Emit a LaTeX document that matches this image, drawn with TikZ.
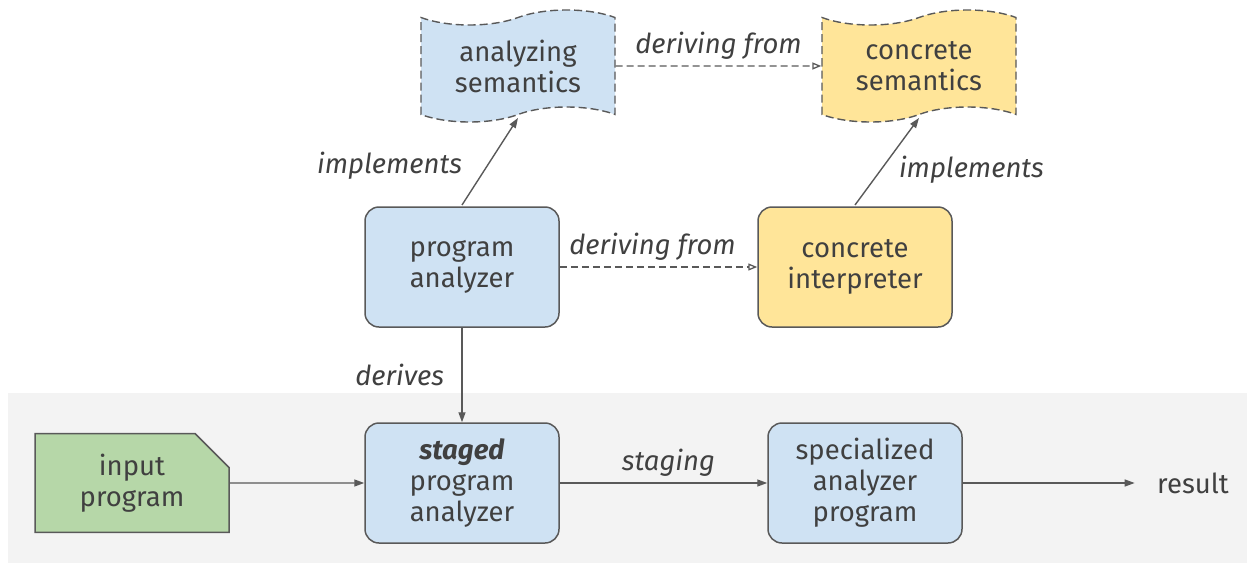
\documentclass[tikz,border=0pt]{standalone}
\usepackage{fontspec}
\setmainfont{Fira Sans}
\usetikzlibrary{arrows.meta,shapes.symbols,shapes.misc}

\definecolor{edgegray}{HTML}{595959}
\definecolor{inkgray}{HTML}{404040}
\definecolor{analyzerblue}{HTML}{CFE2F3}
\definecolor{concreteyellow}{HTML}{FFE599}
\definecolor{inputgreen}{HTML}{B6D7A8}
\definecolor{stagegray}{HTML}{F3F3F3}

\begin{document}
\begin{tikzpicture}[x=1pt, y=-1pt,
    font=\fontsize{27.5}{31}\selectfont, text=inkgray,
    box/.style={draw=edgegray, line width=1.5pt, rounded corners=14pt,
      minimum width=194pt, minimum height=120pt, align=center},
    wave/.style={tape, draw=edgegray, line width=1.4pt, dash pattern=on 8pt off 4pt,
      minimum width=194pt, minimum height=112pt, tape bend height=15pt, align=center},
    doc/.style={chamfered rectangle, chamfered rectangle corners=north east,
      chamfered rectangle xsep=17pt, chamfered rectangle ysep=17pt,
      draw=edgegray, line width=1.5pt, minimum width=194pt, minimum height=97pt,
      align=center},
    link/.style={draw=edgegray, line width=1.4pt, -{Triangle[length=10pt,width=7pt]}},
    derived/.style={draw=edgegray, line width=1.3pt, dash pattern=on 7pt off 4pt,
      -{Triangle[open,length=9pt,width=7pt]}},
    lbl/.style={font=\fontsize{27.5}{31}\selectfont\itshape}]
  \useasboundingbox (0,0) rectangle (1247,565);
  % staging band
  \fill [stagegray] (8,393) rectangle (1247,563);

  \node [wave, fill=analyzerblue]   (asem) at (518,66)  {analyzing\\semantics};
  \node [wave, fill=concreteyellow] (csem) at (919,66)  {concrete\\semantics};
  \node [box, fill=analyzerblue]    (pa)   at (462,267) {program\\analyzer};
  \node [box, fill=concreteyellow]  (ci)   at (855,267) {concrete\\interpreter};
  \node [doc, fill=inputgreen]      (inp)  at (132,483) {input\\program};
  \node [box, fill=analyzerblue]    (spa)  at (462,483) {\textbf{\textit{staged}}\\program\\analyzer};
  \node [box, fill=analyzerblue]    (sap)  at (865,483) {specialized\\analyzer\\program};
  \node (res) at (1193,483) {result};

  \draw [link] (462,205) -- node [lbl, midway, left=24pt, yshift=-4pt] {implements} (518,118);
  \draw [link] (855,205) -- node [lbl, midway, right=8pt, yshift=-8pt] {implements} (919,118);
  \draw [derived] (asem) -- node [lbl, above=3pt] {deriving from} (csem);
  \draw [derived] (pa) -- node [lbl, above=3pt, xshift=-6pt] {deriving from} (ci);
  \draw [link] (pa) -- node [lbl, left=14pt] {derives} (spa);
  \draw [link] (inp) -- (spa);
  \draw [link] (spa) -- node [lbl, above=3pt, xshift=5pt] {staging} (sap);
  \draw [link, shorten >=19pt] (sap) -- (res);
\end{tikzpicture}
\end{document}
